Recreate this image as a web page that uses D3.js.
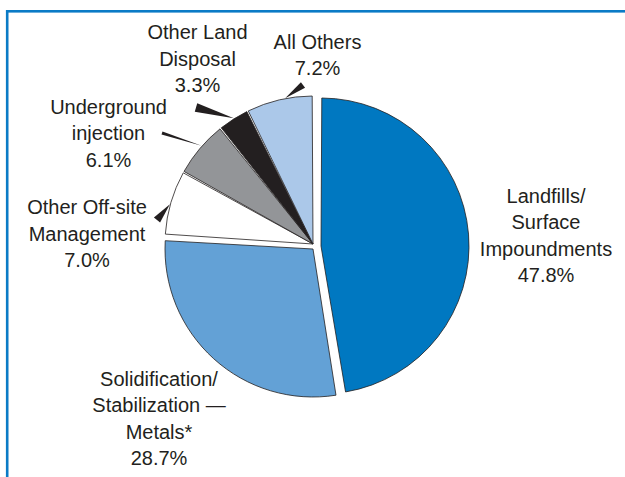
<!DOCTYPE html>
<html>
<head>
<meta charset="utf-8">
<script src="https://cdn.jsdelivr.net/npm/d3@7"></script>
<style>
  html, body { margin: 0; padding: 0; background: #ffffff; }
  svg { display: block; }
  text { font-family: "Liberation Sans", Arial, Helvetica, sans-serif; fill: #231f20; }
</style>
</head>
<body>
<svg id="chart" width="625" height="477"></svg>
<script>
// ---- data ----
const categories = [
  "Landfills/Surface Impoundments",
  "Solidification/Stabilization — Metals*",
  "Other Off-site Management",
  "Underground injection",
  "Other Land Disposal",
  "All Others"
];
const values = [47.8, 28.7, 7.0, 6.1, 3.3, 7.2];
const labelLines = [
  ["Landfills/", "Surface", "Impoundments"],
  ["Solidification/", "Stabilization —", "Metals*"],
  ["Other Off-site", "Management"],
  ["Underground", "injection"],
  ["Other Land", "Disposal"],
  ["All Others"]
];

// ---- styles / layout ----
const colors = ["#0078c1", "#63a1d6", "#ffffff", "#939598", "#231f20", "#abc8e9"];
const cx = 313, cy = 244, R = 148;
const explode = [[8, 2], [0, 5], [0, 0], [0, 0], [0, 0], [0, 0]];
const labelPos = [[546, 202.5], [159, 385.5], [87, 214], [108.5, 113.5], [197.5, 39], [317.5, 48.5]];
const lineH = 26.5;
// leader wedges: slice index, tip angle (deg), base point, half width
const leaders = [
  { i: 2, tipDeg: 285.5, base: [157, 220], hw: 4 },
  { i: 3, tipDeg: 311.4, base: [162, 133], hw: 1.6 },
  { i: 4, tipDeg: 327.8, base: [196, 107.5], hw: 4.5 },
  { i: 5, tipDeg: 349.2, base: [303, 85], hw: 3.5 }
];

const svg = d3.select("#chart");

// frame
svg.append("rect")
  .attr("x", 7.2).attr("y", 11.3)
  .attr("width", 700).attr("height", 600)
  .attr("fill", "none")
  .attr("stroke", "#0a7bc6")
  .attr("stroke-width", 2.6);

const pie = d3.pie().sort(null).value(d => d)
  .startAngle(0).endAngle(2 * Math.PI)
  .padAngle(1.6 / R);
const arcs = pie(values);
const arc = d3.arc().innerRadius(0).outerRadius(R).padRadius(R);

const g = svg.append("g").attr("transform", `translate(${cx},${cy})`);
g.selectAll("path.slice")
  .data(arcs)
  .join("path")
  .attr("class", "slice")
  .attr("transform", (d, i) => `translate(${explode[i][0]},${explode[i][1]})`)
  .attr("d", arc)
  .attr("fill", (d, i) => colors[i])
  .attr("stroke", "#231f20")
  .attr("stroke-width", 0.8)
  .attr("stroke-linejoin", "round");

// leader wedges
leaders.forEach(L => {
  const a = L.tipDeg * Math.PI / 180;
  const tip = [cx + (R + 0.5) * Math.sin(a), cy - (R + 0.5) * Math.cos(a)];
  const dx = tip[0] - L.base[0], dy = tip[1] - L.base[1];
  const len = Math.hypot(dx, dy);
  const nx = -dy / len * L.hw, ny = dx / len * L.hw;
  const pts = [[L.base[0] + nx, L.base[1] + ny], [L.base[0] - nx, L.base[1] - ny], tip];
  svg.append("path")
    .attr("d", d3.line()(pts) + "Z")
    .attr("fill", "#231f20");
});

// labels
arcs.forEach((d, i) => {
  const lines = labelLines[i].concat([values[i].toFixed(1) + "%"]);
  const t = svg.append("text")
    .attr("text-anchor", "middle")
    .attr("font-size", 20);
  lines.forEach((s, k) => {
    t.append("tspan")
      .attr("x", labelPos[i][0])
      .attr("y", labelPos[i][1] + k * lineH)
      .text(s);
  });
});
</script>
</body>
</html>
